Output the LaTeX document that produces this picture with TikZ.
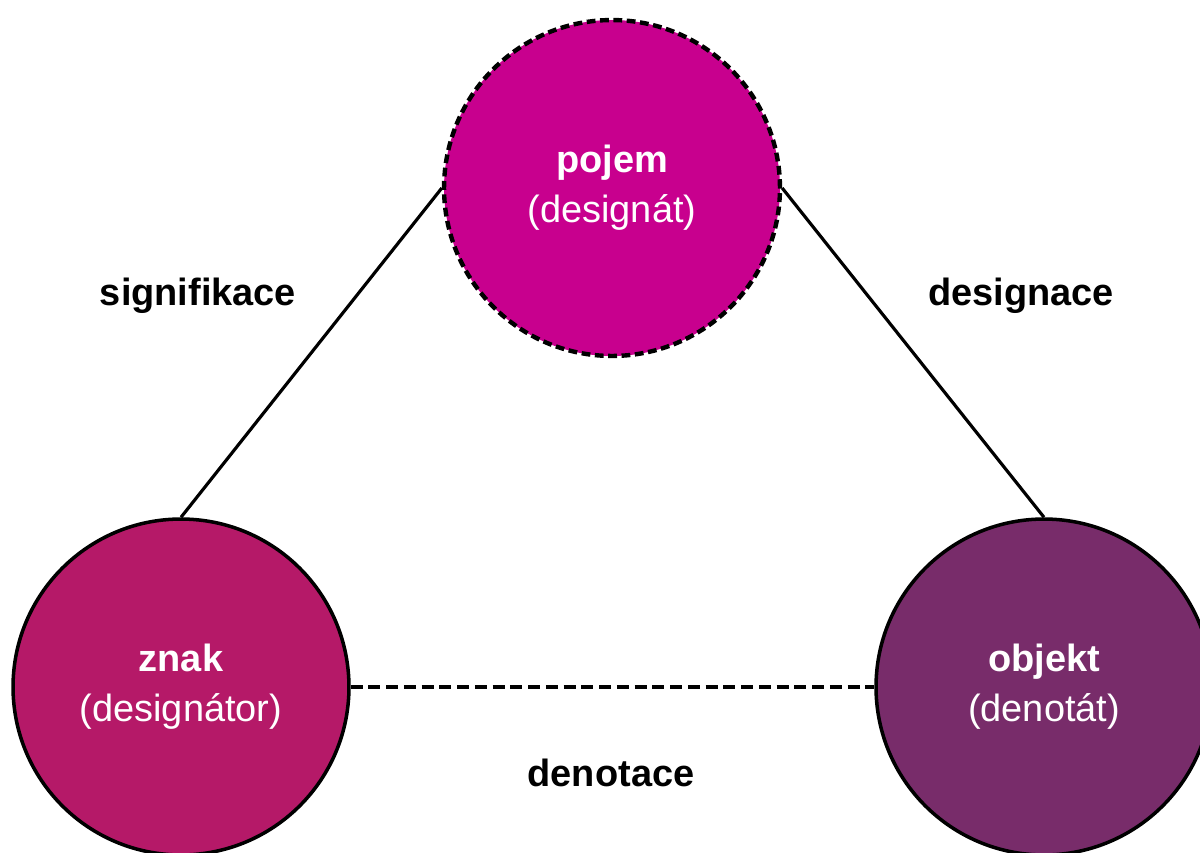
\documentclass[tikz,border=0pt]{standalone}
\usepackage{fontspec}
\setmainfont{Liberation Sans}
\definecolor{pojemfill}{RGB}{200,0,142}
\definecolor{znakfill}{RGB}{181,25,104}
\definecolor{objektfill}{RGB}{120,44,106}
\tikzset{
  concept/.style={circle, draw=black, line width=2pt, minimum size=6.72cm,
    inner sep=0pt, text=white, align=center,
    font=\fontsize{21.6}{28.4}\selectfont},
  relation/.style={anchor=base, font=\fontsize{21.6}{28.4}\selectfont\bfseries},
}
\begin{document}
\begin{tikzpicture}[x=0.02cm, y=-0.02cm]
      \useasboundingbox (0,0) rectangle (1200,852);
      \draw
        (612,188) node[concept, fill=pojemfill, line width=2.5pt, dash pattern=on 5pt off 2.6pt] (pojem){\textbf{pojem}\\(designát)}
        (181,687) node[concept, fill=znakfill] (znak){\textbf{znak}\\(designátor)}
        (1044,687) node[concept, fill=objektfill] (objekt){\textbf{objekt}\\(denotát)};
      \begin{scope}[-, line width=1.8pt]
        \draw (pojem.west) to (znak.north);
        \draw (pojem.east) to (objekt.north);
        \draw[dash pattern=on 6.8pt off 3.3pt] (znak.east) to (objekt.west);
      \end{scope}
      \node[relation] (signifikace) at (198,305) {signifikace};
      \node[relation] (designace) at (1021,305) {designace};
      \node[relation] (denotace) at (611,786) {denotace};
    \end{tikzpicture}
\end{document}
